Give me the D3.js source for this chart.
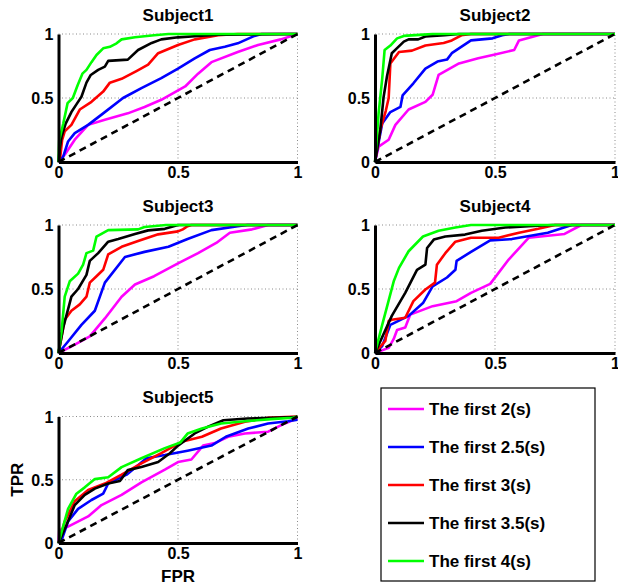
<!DOCTYPE html>
<html>
<head>
<meta charset="utf-8">
<script src="https://cdn.jsdelivr.net/npm/d3@7"></script>
<style>
	body { margin: 0; background: #fff; }
	svg { display: block; }
	text { font-family: "Liberation Sans", Arial, Helvetica, sans-serif; font-weight: bold; fill: #000; }
</style>
</head>
<body>
<svg id="fig" width="618" height="583"></svg>
<script>
// Chart data
const subjects     = ["Subject1", "Subject2", "Subject3", "Subject4", "Subject5"]
const legendLabels = ["The first 2(s)", "The first 2.5(s)", "The first 3(s)", "The first 3.5(s)", "The first 4(s)"]
const lineColors   = ["#ff00ff", "#0000ff", "#ff0000", "#000000", "#00ff00"]
const ticks        = [0, 0.5, 1]
const tickLabels   = ["0", "0.5", "1"]

// each subject: [2s, 2.5s, 3s, 3.5s, 4s] ROC curves as [FPR, TPR]
const subject1 = [
	[[0,0],[0.026,0.057],[0.068,0.174],[0.124,0.29],[0.194,0.33],[0.29,0.38],[0.36,0.43],[0.43,0.486],[0.53,0.59],[0.584,0.69],[0.64,0.78],[0.75,0.86],[0.835,0.914],[0.93,0.958],[0.975,0.985],[1,1]],
	[[0,0],[0.02,0.044],[0.04,0.16],[0.068,0.226],[0.124,0.29],[0.187,0.38],[0.27,0.5],[0.347,0.577],[0.43,0.655],[0.5,0.73],[0.57,0.81],[0.633,0.875],[0.696,0.9],[0.75,0.927],[0.82,0.985],[0.85,1],[1,1]],
	[[0,0],[0.008,0.05],[0.015,0.17],[0.026,0.24],[0.054,0.29],[0.089,0.41],[0.138,0.47],[0.187,0.55],[0.215,0.62],[0.264,0.65],[0.326,0.71],[0.375,0.76],[0.417,0.85],[0.5,0.914],[0.57,0.958],[0.668,0.99],[0.75,1],[1,1]],
	[[0,0],[0.005,0.1],[0.013,0.2],[0.03,0.3],[0.054,0.39],[0.075,0.45],[0.096,0.51],[0.117,0.62],[0.135,0.68],[0.166,0.72],[0.194,0.745],[0.208,0.79],[0.29,0.8],[0.333,0.875],[0.39,0.93],[0.43,0.958],[0.5,0.974],[0.585,0.984],[0.668,0.995],[1,1]],
	[[0,0],[0.003,0.17],[0.02,0.3],[0.038,0.46],[0.06,0.5],[0.08,0.6],[0.1,0.69],[0.117,0.72],[0.138,0.78],[0.159,0.836],[0.187,0.888],[0.215,0.9],[0.243,0.927],[0.264,0.958],[0.32,0.974],[0.4,0.99],[0.46,1],[1,1]]
]
const subject2 = [
	[[0,0],[0.015,0.12],[0.057,0.174],[0.085,0.29],[0.14,0.41],[0.21,0.47],[0.24,0.525],[0.265,0.68],[0.35,0.77],[0.43,0.81],[0.5,0.84],[0.58,0.875],[0.6,0.95],[0.68,0.99],[0.7,1],[1,1]],
	[[0,0],[0.015,0.15],[0.03,0.3],[0.064,0.39],[0.106,0.43],[0.115,0.52],[0.16,0.615],[0.21,0.73],[0.26,0.785],[0.3,0.8],[0.32,0.85],[0.4,0.95],[0.49,0.966],[0.53,0.99],[0.56,1],[1,1]],
	[[0,0],[0.022,0.25],[0.045,0.4],[0.057,0.5],[0.064,0.77],[0.1,0.86],[0.154,0.87],[0.21,0.91],[0.286,0.93],[0.32,0.95],[0.36,0.99],[0.4,1],[1,1]],
	[[0,0],[0.022,0.25],[0.036,0.51],[0.05,0.67],[0.07,0.85],[0.092,0.89],[0.12,0.94],[0.14,0.958],[0.18,0.958],[0.21,0.98],[0.29,0.99],[0.35,1],[1,1]],
	[[0,0],[0.015,0.38],[0.03,0.65],[0.04,0.875],[0.064,0.91],[0.092,0.966],[0.12,0.985],[0.2,0.995],[0.24,1],[1,1]]
]
const subject3 = [
	[[0,0],[0.068,0.065],[0.131,0.13],[0.194,0.27],[0.264,0.44],[0.32,0.535],[0.4,0.6],[0.5,0.7],[0.584,0.78],[0.66,0.86],[0.717,0.94],[0.81,0.966],[0.877,1],[1,1]],
	[[0,0],[0.04,0.09],[0.096,0.22],[0.152,0.33],[0.194,0.55],[0.278,0.75],[0.36,0.79],[0.46,0.83],[0.54,0.89],[0.64,0.96],[0.75,0.99],[0.79,1],[1,1]],
	[[0,0],[0.026,0.26],[0.054,0.33],[0.089,0.38],[0.117,0.44],[0.131,0.55],[0.159,0.6],[0.187,0.65],[0.208,0.77],[0.264,0.83],[0.333,0.875],[0.417,0.927],[0.5,0.95],[0.52,0.966],[0.54,0.99],[0.556,1],[1,1]],
	[[0,0],[0.02,0.2],[0.054,0.44],[0.082,0.5],[0.117,0.61],[0.131,0.72],[0.166,0.78],[0.208,0.87],[0.25,0.89],[0.32,0.93],[0.375,0.958],[0.445,0.97],[0.5,1],[1,1]],
	[[0,0],[0.013,0.17],[0.026,0.44],[0.047,0.56],[0.082,0.62],[0.103,0.69],[0.117,0.78],[0.145,0.8],[0.159,0.91],[0.208,0.96],[0.333,0.966],[0.36,0.984],[0.45,1],[1,1]]
]
const subject4 = [
	[[0,0],[0.057,0.04],[0.078,0.11],[0.092,0.18],[0.126,0.2],[0.147,0.3],[0.24,0.366],[0.34,0.405],[0.4,0.47],[0.48,0.54],[0.557,0.73],[0.64,0.9],[0.79,0.93],[0.86,1],[1,1]],
	[[0,0],[0.03,0.055],[0.064,0.22],[0.14,0.29],[0.2,0.39],[0.24,0.52],[0.3,0.59],[0.335,0.65],[0.34,0.72],[0.4,0.79],[0.48,0.88],[0.57,0.89],[0.72,0.94],[0.82,1],[1,1]],
	[[0,0],[0.043,0.094],[0.057,0.25],[0.07,0.26],[0.126,0.275],[0.16,0.405],[0.21,0.496],[0.25,0.55],[0.258,0.69],[0.293,0.78],[0.335,0.87],[0.4,0.9],[0.515,0.9],[0.6,0.94],[0.68,0.97],[0.75,1],[1,1]],
	[[0,0],[0.07,0.29],[0.126,0.47],[0.175,0.65],[0.21,0.69],[0.217,0.82],[0.245,0.886],[0.293,0.91],[0.375,0.925],[0.445,0.955],[0.543,0.98],[0.64,0.99],[0.74,1],[1,1]],
	[[0,0],[0.03,0.22],[0.078,0.56],[0.1,0.665],[0.14,0.795],[0.2,0.91],[0.265,0.955],[0.335,0.98],[0.4,1],[1,1]]
]
const subject5 = [
	[[0,0],[0.003,0.1],[0.04,0.13],[0.124,0.21],[0.18,0.3],[0.264,0.38],[0.347,0.48],[0.445,0.58],[0.5,0.64],[0.556,0.66],[0.605,0.77],[0.654,0.79],[0.71,0.84],[0.78,0.866],[0.877,0.88],[0.947,0.945],[1,0.985]],
	[[0,0],[0.013,0.024],[0.04,0.17],[0.082,0.27],[0.138,0.34],[0.187,0.39],[0.208,0.47],[0.285,0.54],[0.368,0.67],[0.445,0.695],[0.54,0.73],[0.64,0.77],[0.7,0.84],[0.794,0.905],[0.877,0.945],[0.96,0.963],[1,0.975]],
	[[0,0],[0.026,0.17],[0.068,0.33],[0.124,0.42],[0.194,0.47],[0.264,0.54],[0.347,0.63],[0.43,0.71],[0.515,0.8],[0.6,0.84],[0.68,0.905],[0.78,0.958],[0.877,0.99],[1,1]],
	[[0,0],[0.033,0.14],[0.068,0.3],[0.11,0.38],[0.152,0.43],[0.208,0.47],[0.257,0.49],[0.29,0.576],[0.347,0.6],[0.417,0.64],[0.466,0.71],[0.5,0.77],[0.57,0.866],[0.626,0.92],[0.69,0.97],[0.79,0.984],[1,0.995]],
	[[0,0],[0.04,0.27],[0.075,0.39],[0.11,0.44],[0.152,0.505],[0.208,0.52],[0.264,0.6],[0.347,0.67],[0.445,0.75],[0.51,0.795],[0.54,0.865],[0.6,0.905],[0.68,0.945],[0.78,0.963],[0.89,0.979],[0.98,0.99],[1,1]]
]
const rocData = [subject1, subject2, subject3, subject4, subject5]
const chanceLine = [[0,0],[1,1]]

// Layout (pixel boxes of the axes, as in the MATLAB subplot grid)
const panels = [
	{left: 58.5, top: 34,    w: 239, h: 128},
	{left: 375,  top: 34,    w: 240, h: 128},
	{left: 58.5, top: 225,   w: 239, h: 128},
	{left: 375,  top: 225,   w: 240, h: 128},
	{left: 58.5, top: 416.5, w: 239, h: 126.5}
]

const svg = d3.select("#fig")

panels.forEach((p, i) => {
	let g = svg.append("g").attr("transform", "translate(" + p.left + "," + p.top + ")")
	let x = d3.scaleLinear().domain([0, 1]).range([0, p.w])
	let y = d3.scaleLinear().domain([0, 1]).range([p.h, 0])

	// dotted grid (also forms the top / right edge)
	let grid = g.append("g")
		.style("stroke", "#8a8a8a")
		.style("stroke-width", 1)
		.style("stroke-dasharray", "1,2.5")
	grid.selectAll(".gx").data(ticks.slice(1)).enter().append("line")
		.attr("x1", d => x(d)).attr("x2", d => x(d))
		.attr("y1", y(0)).attr("y2", y(1))
	grid.selectAll(".gy").data(ticks.slice(1)).enter().append("line")
		.attr("x1", x(0)).attr("x2", x(1))
		.attr("y1", d => y(d)).attr("y2", d => y(d))

	let line = d3.line().x(d => x(d[0])).y(d => y(d[1]))

	// ROC curves
	g.selectAll(".roc").data(rocData[i]).enter().append("path")
		.attr("d", line)
		.style("fill", "none")
		.style("stroke", (d, k) => lineColors[k])
		.style("stroke-width", 2.6)
		.style("stroke-linejoin", "round")

	// chance diagonal
	g.append("path")
		.attr("d", line(chanceLine))
		.style("fill", "none")
		.style("stroke", "#000")
		.style("stroke-width", 2.6)
		.style("stroke-dasharray", "7,5")

	// axes
	let xAxis = d3.axisBottom(x).tickValues(ticks).tickFormat((d, k) => tickLabels[k])
		.tickSizeInner(0).tickSizeOuter(0).tickPadding(5)
	let yAxis = d3.axisLeft(y).tickValues(ticks).tickFormat((d, k) => tickLabels[k])
		.tickSizeInner(0).tickSizeOuter(0).tickPadding(5)

	let ax = g.append("g").attr("transform", "translate(0," + p.h + ")").call(xAxis)
	let ay = g.append("g").call(yAxis)
	;[ax, ay].forEach(a => {
		a.select(".domain").style("stroke", "#000").style("stroke-width", 3)
		a.selectAll("text").style("font-size", "16px").style("font-family", null)
			.attr("fill", "#000")
	})
	ay.selectAll("text").attr("dy", "0.36em")

	// title
	g.append("text")
		.attr("x", p.w / 2).attr("y", -13.5)
		.attr("text-anchor", "middle")
		.style("font-size", "17px")
		.text(subjects[i])
})

// axis labels on the last subplot
let p5 = panels[4]
svg.append("text")
	.attr("transform", "translate(23," + (p5.top + p5.h / 2) + ") rotate(-90)")
	.attr("text-anchor", "middle")
	.style("font-size", "17px")
	.text("TPR")
svg.append("text")
	.attr("x", p5.left + p5.w / 2).attr("y", 581.5)
	.attr("text-anchor", "middle")
	.style("font-size", "17px")
	.text("FPR")

// legend
let leg = svg.append("g").attr("transform", "translate(381,388)")
leg.append("rect")
	.attr("x", 0).attr("y", 0).attr("width", 214).attr("height", 193)
	.style("fill", "#fff").style("stroke", "#000").style("stroke-width", 1.2)
let rows = leg.selectAll(".row").data(legendLabels).enter().append("g")
	.attr("transform", (d, k) => "translate(0," + (21 + k * 38) + ")")
rows.append("line")
	.attr("x1", 7).attr("x2", 43).attr("y1", 0).attr("y2", 0)
	.style("stroke", (d, k) => lineColors[k])
	.style("stroke-width", 2.6)
rows.append("text")
	.attr("x", 48).attr("dy", "0.36em")
	.style("font-size", "17px")
	.text(d => d)
</script>
</body>
</html>
